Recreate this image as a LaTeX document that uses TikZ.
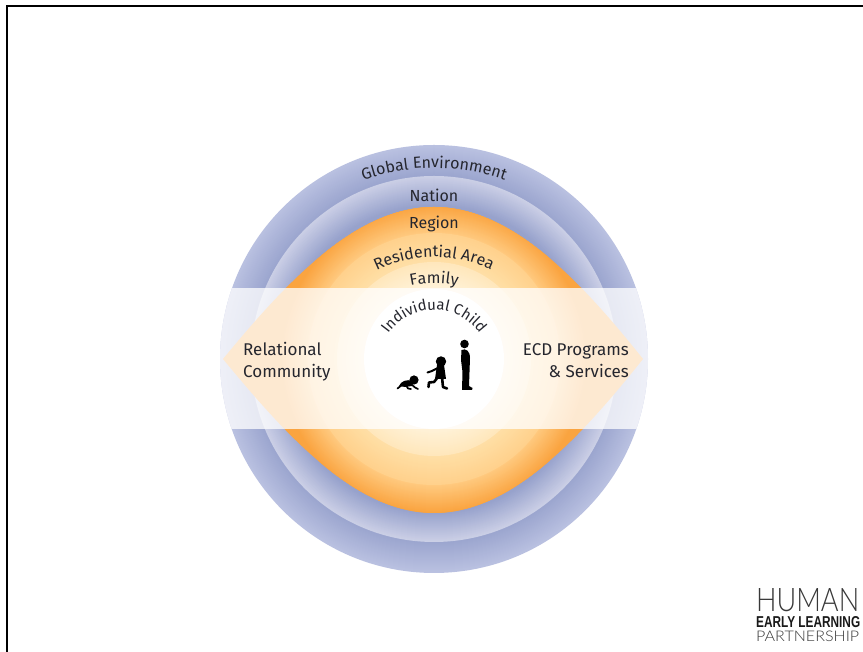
\documentclass[tikz,border=0pt]{standalone}
\usepackage{fontspec}
\setmainfont{Fira Sans}
\newfontfamily\logolight{Lato Light}
\newfontfamily\logobold{Liberation Sans}[BoldFont=Liberation Sans Bold]
\usetikzlibrary{decorations.text}
\definecolor{inkc}{HTML}{25262E}
\newcommand{\lbl}{\fontsize{16}{22}\selectfont\color{inkc}}
\newcommand{\lblb}{\fontsize{17}{22}\selectfont\color{inkc}}
\newcommand{\lblc}{\fontsize{15}{22}\selectfont\color{inkc}}
\definecolor{oa}{HTML}{BAC1E1}\definecolor{ob}{HTML}{9CA6CF}
\definecolor{na}{HTML}{CBCFE6}\definecolor{nb}{HTML}{97A2CC}
\definecolor{ga}{HTML}{FAA440}\definecolor{gb}{HTML}{FFC97E}
\definecolor{ra}{HTML}{FFD18C}\definecolor{rb}{HTML}{FFDFA6}
\definecolor{fa}{HTML}{FFE7BC}\definecolor{fb}{HTML}{FFF2D8}
% concentric discs from outer to inner radius, colour running from #3 to #4
\newcommand{\ringgrad}[4]{%
 \pgfmathtruncatemacro{\rsecond}{#1-1}%
 \foreach \rr in {#1,\rsecond,...,#2}{%
  \pgfmathtruncatemacro{\pp}{100*(#1-\rr)/max(1,#1-#2)}%
  \fill[#4!\pp!#3] (c) circle (\rr);
 }}
\tikzset{
 lab/.style={inner sep=0pt,font=\lbl},
 labb/.style={inner sep=0pt,font=\lblb},
 sil/.style={fill=black,draw=none},
 limb/.style={draw=black,line cap=round,line join=round},
 arctext/.style={decorate,decoration={text along path,text align=center,text={|\lbl|#1}}},
 arctextc/.style={decorate,decoration={text along path,text align=center,text={|\lblc|#1}}}
}
\begin{document}
\begin{tikzpicture}[x=1pt,y=1pt]
\useasboundingbox (0,0) rectangle (863,652);
\fill[white] (0,0) rectangle (863,652);
% frame
\coordinate (fa1) at (7,0); \coordinate (fa2) at (7,646); \coordinate (fa3) at (863,646);
\draw[black,line width=2.4pt] (fa1) -- (fa2) -- (fa3);
\coordinate (c) at (434,293);
% rings
\ringgrad{214}{184}{oa}{ob}
\ringgrad{183}{154}{na}{nb}
\begin{scope}
 \clip (223,293) .. controls (285,368) and (355,445) .. (434,445)
   .. controls (513,445) and (583,368) .. (643,293)
   .. controls (583,218) and (513,139) .. (434,139)
   .. controls (355,139) and (285,218) .. (223,293) -- cycle;
 \fill[ga] (c) circle (214);
 \ringgrad{154}{127}{ga}{gb}
 \ringgrad{126}{98}{ra}{rb}
 \ringgrad{97}{71}{fa}{fb}
\end{scope}
% translucent band
\begin{scope}
 \clip (c) circle (214);
 \fill[white,opacity=.76] (200,223) rectangle (670,364);
\end{scope}
\fill[white] (c) circle (70);
% curved labels
\path[arctext=Global Environment] (434,274) ++(135:210) arc (135:45:210);
\path[arctext=Residential Area] (434,265) ++(140:130) arc (140:40:130);
\path[arctext=Family] (434,259) ++(130:110) arc (130:50:110);
\path[arctextc=Individual Child] (434,286) ++(178:56) arc (178:2:56);
% straight labels
\node[lab,anchor=base] (nation) at (434,450) {Nation};
\node[lab,anchor=base] (region) at (434,423) {Region};
\node[labb,anchor=base west] (rel) at (243,296) {Relational};
\node[labb,anchor=base west] (com) at (243,274) {Community};
\node[labb,anchor=base east] (ecd) at (629,296) {ECD Programs};
\node[labb,anchor=base east] (svc) at (629,274) {\& Services};
% silhouettes
\begin{scope}[shift={(0,652)},yscale=-1]
 % teen
 \fill[sil] (464.5,344) circle (4.3);
 \fill[sil] (461.5,350) .. controls (466,348) and (470,351) .. (470,358)
   -- (469.5,372) -- (469,386) -- (472.5,388) -- (472,390) -- (462,390)
   -- (462.5,372) -- (461,360) -- cycle;
 % child
 \fill[sil] (441,361.5) circle (5.2);
 \fill[sil] (437,365) -- (444,365) -- (446,379) -- (435,379) -- cycle;
 \draw[limb,line width=2pt] (438,368) -- (432,371) -- (427.5,372.5);
 \draw[limb,line width=2.6pt] (438,377) -- (434,382) -- (429,382.5) -- (428.5,387);
 \draw[limb,line width=2.6pt] (442,377) -- (443,387) -- (447,388.5);
 % baby
 \fill[sil] (414,380) circle (4.6);
 \fill[sil] (399,386) .. controls (401,381) and (407,379) .. (412,381) -- (412,386) -- (405,387) -- cycle;
 \draw[limb,line width=1.7pt] (402,385) -- (397.5,388.5);
 \draw[limb,line width=1.7pt] (406,385) -- (408,388.5) -- (411,389);
 \draw[limb,line width=1.7pt] (411,384) -- (415,387.5) -- (418,389);
\end{scope}
% logo
\node[inner sep=0pt,anchor=south west,text=black!78] (l1) at (756,40) {\resizebox{103pt}{23pt}{\logolight HUMAN}};
\node[inner sep=0pt,anchor=south west,text=black!90] (l2) at (756,24) {\resizebox{104pt}{11pt}{\logobold\bfseries EARLY LEARNING}};
\node[inner sep=0pt,anchor=south west,text=black!78] (l3) at (756,10) {\resizebox{103pt}{10.5pt}{\logolight PARTNERSHIP}};
\end{tikzpicture}
\end{document}
